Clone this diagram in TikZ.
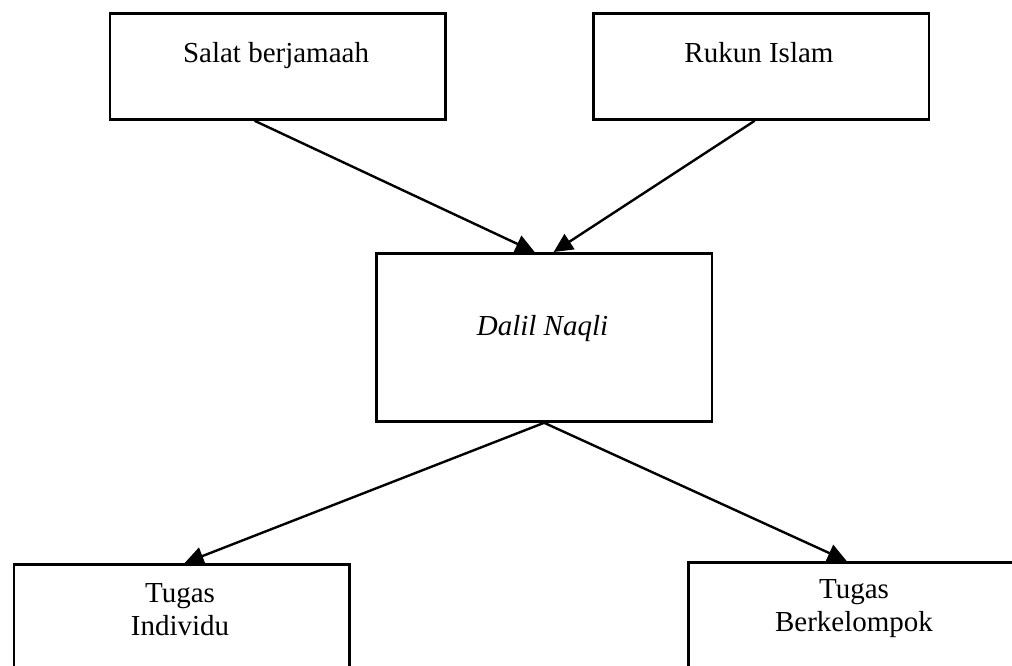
\documentclass[tikz,border=0pt]{standalone}
\usepackage{fontspec}
\setmainfont{Liberation Serif}
\usetikzlibrary{arrows.meta}
\begin{document}
\begin{tikzpicture}[x=1pt,y=-1pt,
  box/.style={draw, line width=2.8pt, inner sep=0pt, anchor=north west, minimum width=335.5pt},
  lbl/.style={font=\fontsize{29}{32.5}\selectfont, align=center, anchor=base, inner sep=0pt},
  link/.style={line width=2.4pt, -{Triangle[length=19pt,width=18pt]}}]
\useasboundingbox (0,0) rectangle (1012,666);
\clip (0,0) rectangle (1012,666);

% boxes
\node[box, minimum height=106pt] (salat) at (108.5,12) {};
\node[box, minimum height=106pt] (rukun) at (592,12) {};
\node[box, minimum height=168pt] (dalil) at (375,252) {};
\node[box, minimum height=130pt] (indiv) at (12.5,563) {};
\node[box, minimum height=130pt] (kelompok) at (687,561) {};

% labels (base anchor sits on the last line)
\node[lbl] (tsalat) at (276,63) {Salat berjamaah};
\node[lbl] (trukun) at (759,63) {Rukun Islam};
\node[lbl] (tdalil) at (542.5,335) {\itshape Dalil Naqli};
\node[lbl] (tindiv) at (180,635) {Tugas\\Individu};
\node[lbl] (tkelompok) at (854,631) {Tugas\\Berkelompok};

% connectors
\draw[link] ([xshift=-23pt]salat.south) -- ([xshift=-9.5pt]dalil.north);
\draw[link] ([xshift=-6.5pt]rukun.south) -- ([xshift=9.5pt]dalil.north);
\draw[link] (dalil.south) -- ([xshift=3pt]indiv.north);
\draw[link] (dalil.south) -- ([xshift=-9.5pt]kelompok.north);
\end{tikzpicture}
\end{document}
